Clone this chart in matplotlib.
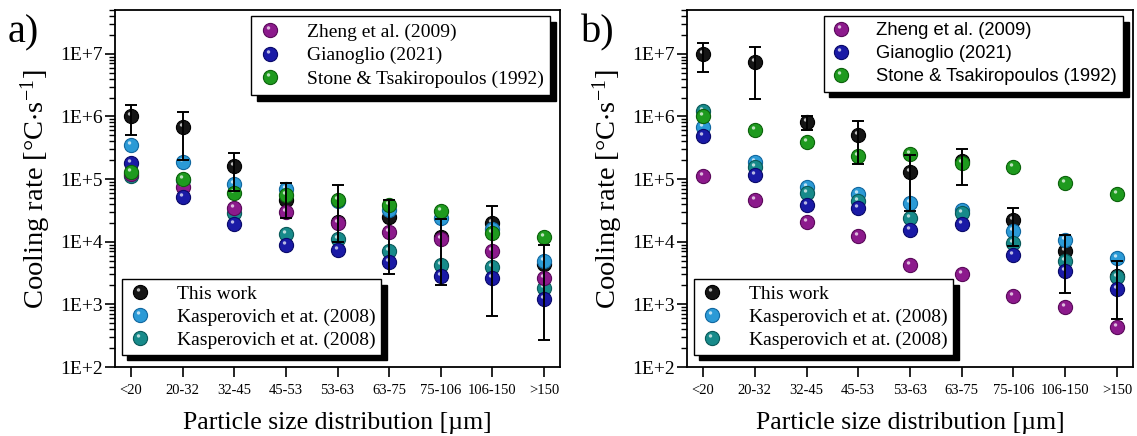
import numpy as np
import matplotlib
matplotlib.use("Agg")
import matplotlib.pyplot as plt
from matplotlib.path import Path
from matplotlib.lines import Line2D
from matplotlib.legend_handler import HandlerTuple
from matplotlib.ticker import LogLocator, FixedLocator, FuncFormatter, NullFormatter

plt.rcParams['font.family'] = ['Liberation Serif', 'DejaVu Serif']
plt.rcParams['mathtext.fontset'] = 'stix'

categories = ["<20", "20-32", "32-45", "45-53", "53-63", "63-75", "75-106", "106-150", ">150"]

# ---- panel a) ----
a_this = [1.0e6, 6.9e5, 1.6e5, 4.6e4, 2.1e4, 2.5e4, 1.2e4, 2.0e4, 4.4e3]
a_this_hi = [1.5e6, 1.17e6, 2.6e5, 8.7e4, 7.9e4, 4.7e4, 2.3e4, 3.7e4, 9.0e3]
a_this_lo = [5.0e5, 2.0e5, 6.5e4, 2.4e4, 9.8e3, 3.0e3, 2.0e3, 6.5e2, 2.7e2]
a_kasp1 = [3.5e5, 1.9e5, 8.3e4, 6.9e4, 4.5e4, 3.2e4, 2.4e4, 1.6e4, 4.9e3]
a_kasp2 = [1.1e5, 9.5e4, 2.9e4, 1.35e4, 1.1e4, 7.1e3, 4.2e3, 4.0e3, 1.8e3]
a_zheng = [1.2e5, 7.6e4, 3.5e4, 3.0e4, 2.0e4, 1.45e4, 1.1e4, 7.0e3, 2.6e3]
a_gian = [1.8e5, 5.1e4, 1.9e4, 8.9e3, 7.5e3, 4.7e3, 2.8e3, 2.6e3, 1.2e3]
a_stone = [1.3e5, 1.0e5, 6.1e4, 5.6e4, 4.6e4, 3.8e4, 3.1e4, 1.37e4, 1.2e4]

# ---- panel b) ----
b_this = [1.0e7, 7.3e6, 8.1e5, 5.0e5, 1.3e5, 1.95e5, 2.2e4, 7.2e3, 2.8e3]
b_this_hi = [1.5e7, 1.28e7, 1.0e6, 8.4e5, 2.4e5, 3.0e5, 3.5e4, 1.28e4, 4.9e3]
b_this_lo = [5.1e6, 1.87e6, 6.0e5, 1.75e5, 3.1e4, 7.9e4, 8.5e3, 1.5e3, 5.9e2]
b_kasp1 = [6.8e5, 1.87e5, 7.5e4, 5.7e4, 4.1e4, 3.2e4, 1.5e4, 1.05e4, 5.5e3]
b_kasp2 = [1.2e6, 1.55e5, 5.9e4, 4.4e4, 2.4e4, 2.9e4, 9.4e3, 5.0e3, 2.7e3]
b_zheng = [1.1e5, 4.7e4, 2.1e4, 1.23e4, 4.3e3, 3.0e3, 1.37e3, 9.1e2, 4.3e2]
b_gian = [4.8e5, 1.18e5, 3.9e4, 3.5e4, 1.55e4, 1.9e4, 6.2e3, 3.4e3, 1.75e3]
b_stone = [1.0e6, 6.0e5, 3.9e5, 2.3e5, 2.5e5, 1.8e5, 1.55e5, 8.6e4, 5.7e4]

labels_top = ["Zheng et al. (2009)", "Gianoglio (2021)", "Stone & Tsakiropoulos (1992)"]
labels_bottom = ["This work", "Kasperovich et at. (2008)", "Kasperovich et at. (2008)"]

colors = {
    "this": ("#151515", "#000000"),
    "kasp1": ("#2b9ad6", "#1268a0"),
    "kasp2": ("#178a8a", "#0b5a5a"),
    "zheng": ("#8c1a8c", "#5a0a5a"),
    "gian": ("#1a1aa6", "#0a0a6a"),
    "stone": ("#1e9a1e", "#0c620c"),
}

# specular highlight marker: small disc off-centre, scaled together with the ball
_c = Path.circle(center=(-0.28, 0.36), radius=0.24)
_verts = np.vstack([_c.vertices, [[1.0, 0.0], [1.0, 0.0]]])
_codes = np.concatenate([_c.codes, [Path.MOVETO, Path.LINETO]])
HIGHLIGHT = Path(_verts, _codes)

MS = 10.2


def ball(ax, x, y, key, z):
    face, edge = colors[key]
    ax.plot(x, y, ls='none', marker='o', ms=MS, mfc=face, mec=edge, mew=0.8, zorder=z)
    ax.plot(x, y, ls='none', marker=HIGHLIGHT, ms=MS, mfc='white', mew=0,
            alpha=0.7, zorder=z + 0.01)


def ball_handle(key):
    face, edge = colors[key]
    h1 = Line2D([], [], ls='none', marker='o', ms=MS, mfc=face, mec=edge, mew=0.8)
    h2 = Line2D([], [], ls='none', marker=HIGHLIGHT, ms=MS, mfc='white', mew=0, alpha=0.7)
    return (h1, h2)


def draw_panel(ax, this, lo, hi, kasp1, kasp2, zheng, gian, stone, top_font):
    x = np.arange(len(categories))
    this = np.asarray(this)
    yerr = np.vstack([this - np.asarray(lo), np.asarray(hi) - this])
    ax.errorbar(x, this, yerr=yerr, fmt='none', ecolor='black', elinewidth=1.4,
                capsize=4, capthick=1.4, zorder=10)
    ball(ax, x, this, "this", 2)
    ball(ax, x, kasp1, "kasp1", 3)
    ball(ax, x, kasp2, "kasp2", 4)
    ball(ax, x, zheng, "zheng", 5)
    ball(ax, x, gian, "gian", 6)
    ball(ax, x, stone, "stone", 7)

    ax.set_yscale('log')
    ax.set_ylim(1e2, 5e7)
    ax.set_xlim(-0.31, len(categories) - 1 + 0.31)
    ax.xaxis.set_major_locator(FixedLocator(x))
    ax.set_xticklabels(categories, fontsize=10.5)
    ax.yaxis.set_major_locator(FixedLocator([1e2, 1e3, 1e4, 1e5, 1e6, 1e7]))
    ax.yaxis.set_major_formatter(FuncFormatter(lambda v, p: "1E+%d" % int(round(np.log10(v)))))
    ax.yaxis.set_minor_locator(LogLocator(base=10, subs=np.arange(2, 10), numticks=20))
    ax.yaxis.set_minor_formatter(NullFormatter())
    ax.tick_params(axis='y', which='major', direction='out', length=7, width=1.2,
                   labelsize=14, pad=2)
    ax.tick_params(axis='y', which='minor', direction='out', length=4, width=1.0)
    ax.tick_params(axis='x', which='major', direction='out', length=7, width=1.2, pad=5)
    for s in ax.spines.values():
        s.set_linewidth(1.3)

    ax.set_ylabel(r"Cooling rate [°C$\cdot$s$^{\mathregular{-1}}$]", fontsize=20.5, labelpad=5)
    ax.set_xlabel("Particle size distribution [µm]", fontsize=18.5, labelpad=11)

    shadow = {'ox': 4, 'oy': -4, 'color': 'black', 'alpha': 1}
    leg1 = ax.legend([ball_handle(k) for k in ("zheng", "gian", "stone")], labels_top,
                     loc='upper right', bbox_to_anchor=(0.978, 0.983), borderaxespad=0,
                     fancybox=False, edgecolor='black', framealpha=1, shadow=shadow,
                     prop=top_font, handlelength=1.2, handletextpad=1.3,
                     labelspacing=0.32, borderpad=0.35, numpoints=1,
                     handler_map={tuple: HandlerTuple(ndivide=1)})
    leg1.get_frame().set_linewidth(1.0)
    ax.add_artist(leg1)
    leg2 = ax.legend([ball_handle(k) for k in ("this", "kasp1", "kasp2")], labels_bottom,
                     loc='lower left', bbox_to_anchor=(0.015, 0.034), borderaxespad=0,
                     fancybox=False, edgecolor='black', framealpha=1, shadow=shadow,
                     prop={'family': 'Liberation Serif', 'size': 14.0},
                     handlelength=1.2, handletextpad=1.3,
                     labelspacing=0.26, borderpad=0.32, numpoints=1,
                     handler_map={tuple: HandlerTuple(ndivide=1)})
    leg2.get_frame().set_linewidth(1.0)


fig = plt.figure(figsize=(11.37, 4.36), dpi=100)
ax_a = fig.add_axes([115 / 1137, 69 / 436, 445 / 1137, 357 / 436])
ax_b = fig.add_axes([687 / 1137, 69 / 436, 446 / 1137, 357 / 436])

draw_panel(ax_a, a_this, a_this_lo, a_this_hi, a_kasp1, a_kasp2, a_zheng, a_gian, a_stone,
           {'family': 'Liberation Serif', 'size': 14})
draw_panel(ax_b, b_this, b_this_lo, b_this_hi, b_kasp1, b_kasp2, b_zheng, b_gian, b_stone,
           {'family': 'Liberation Sans', 'size': 13.2})

fig.text(8 / 1137, 1 - 14 / 436, "a)", fontsize=29, va='top', ha='left')
fig.text(581 / 1137, 1 - 14 / 436, "b)", fontsize=29, va='top', ha='left')

fig.savefig("out.png", dpi=100)
